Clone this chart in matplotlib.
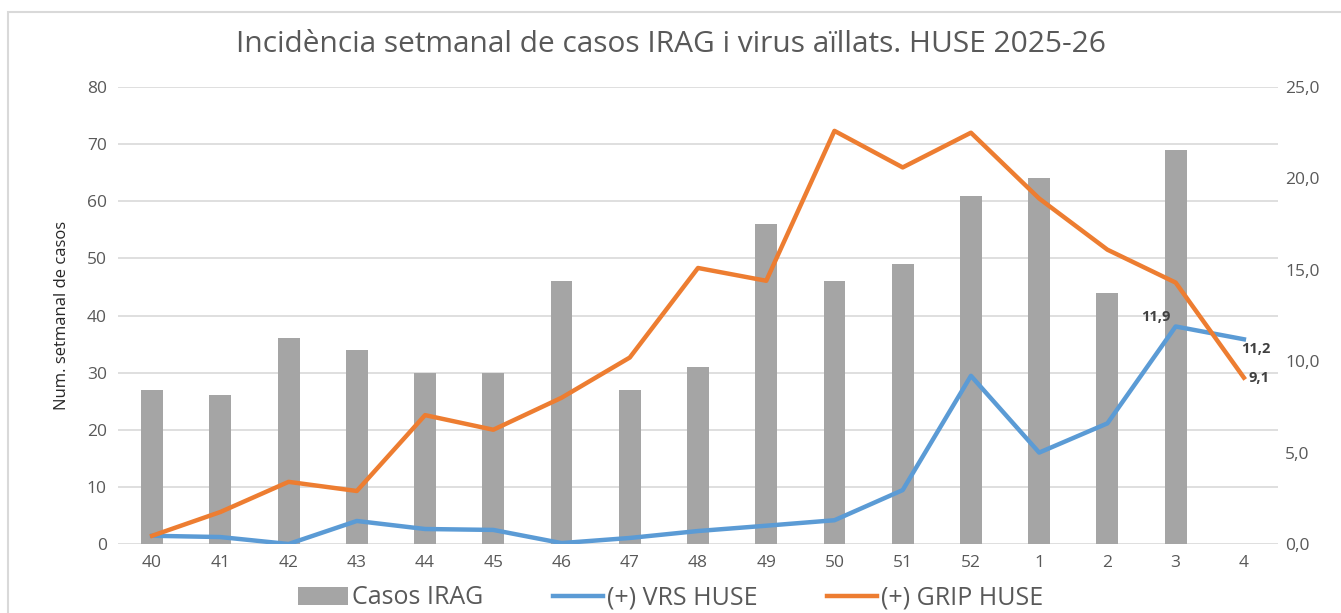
import matplotlib.pyplot as plt
import numpy as np
from matplotlib.patches import Rectangle

plt.rcParams['font.family'] = ['Open Sans', 'DejaVu Sans']

# setmanes epidemiologiques
weeks = ["40", "41", "42", "43", "44", "45", "46", "47", "48",
         "49", "50", "51", "52", "1", "2", "3", "4"]

# casos IRAG (eix esquerre); setmana 4 sense dada
casos_irag = [27, 26, 36, 34, 30, 30, 46, 27, 31, 56, 46, 49, 61, 64, 44, 69, np.nan]

# virus aillats (eix dret)
vrs_huse = [0.45, 0.38, 0.0, 1.26, 0.82, 0.77, 0.05, 0.33, 0.71, 1.0, 1.3,
            2.95, 9.2, 5.0, 6.6, 11.9, 11.2]
grip_huse = [0.45, 1.75, 3.4, 2.9, 7.05, 6.25, 8.0, 10.2, 15.1, 14.4, 22.6,
             20.6, 22.5, 18.9, 16.1, 14.3, 9.1]

gray = "#A5A5A5"
blue = "#5B9BD5"
orange = "#ED7D31"
txt = "#595959"

fig = plt.figure(figsize=(13.41, 6.13), dpi=100)
fig.patches.append(Rectangle((8 / 1341, -0.1), 1.1, (613 - 12) / 613 + 0.1,
                             transform=fig.transFigure, fill=False,
                             edgecolor="#D9D9D9", linewidth=1.5))

ax = fig.add_axes([118 / 1341, 1 - 544 / 613, (1278 - 118) / 1341, (544 - 87) / 613])
x = np.arange(len(weeks))

ax.bar(x, casos_irag, width=0.32, color=gray, zorder=2, label="Casos IRAG")
ax.set_ylim(0, 80)
ax.set_yticks(range(0, 81, 10))
ax.set_xlim(-0.5, len(weeks) - 0.5)
ax.set_xticks(x)
ax.set_xticklabels(weeks)
ax.grid(axis="y", color="#D9D9D9", linewidth=1.2, zorder=0)
ax.set_axisbelow(True)
for s in ax.spines.values():
    s.set_visible(False)
ax.tick_params(length=0, labelsize=12.5, colors=txt, pad=8)
ax.set_ylabel("Num. setmanal de casos", fontsize=12, color="#262626", labelpad=12)

ax2 = ax.twinx()
ax2.plot(x, vrs_huse, color=blue, linewidth=3.2, zorder=3, label="(+) VRS HUSE")
ax2.plot(x, grip_huse, color=orange, linewidth=3.2, zorder=4, label="(+) GRIP HUSE")
ax2.set_ylim(0, 25)
ax2.set_yticks(np.arange(0, 26, 5))
ax2.set_yticklabels([f"{v:.1f}".replace(".", ",") for v in np.arange(0, 26, 5)])
for s in ax2.spines.values():
    s.set_visible(False)
ax2.tick_params(length=0, labelsize=12.5, colors=txt, pad=5)

# etiquetes de dades
lab = dict(fontsize=10.5, fontweight="bold", color="#404040")
ax2.annotate(f"{vrs_huse[15]:.1f}".replace(".", ","), (x[15], vrs_huse[15]),
             xytext=(-4, 2), textcoords="offset points", ha="right", va="bottom", **lab)
ax2.annotate(f"{vrs_huse[16]:.1f}".replace(".", ","), (x[16], vrs_huse[16]),
             xytext=(-2, -2), textcoords="offset points", ha="left", va="top", **lab)
ax2.annotate(f"{grip_huse[16]:.1f}".replace(".", ","), (x[16], grip_huse[16]),
             xytext=(3, 0), textcoords="offset points", ha="left", va="center", **lab)

fig.text(0.5, 1 - 45 / 613, "Incidència setmanal de casos IRAG i virus aïllats. HUSE 2025-26",
         ha="center", va="center", fontsize=21.5, color=txt)

h1, l1 = ax.get_legend_handles_labels()
h2, l2 = ax2.get_legend_handles_labels()
fig.legend(h1 + h2, l1 + l2, loc="center", bbox_to_anchor=(0.5, 1 - 598 / 613),
           ncol=3, frameon=False, fontsize=18, labelcolor=txt,
           handlelength=2.0, handletextpad=0.15, columnspacing=2.8)

fig.savefig("out.png", dpi=100)
